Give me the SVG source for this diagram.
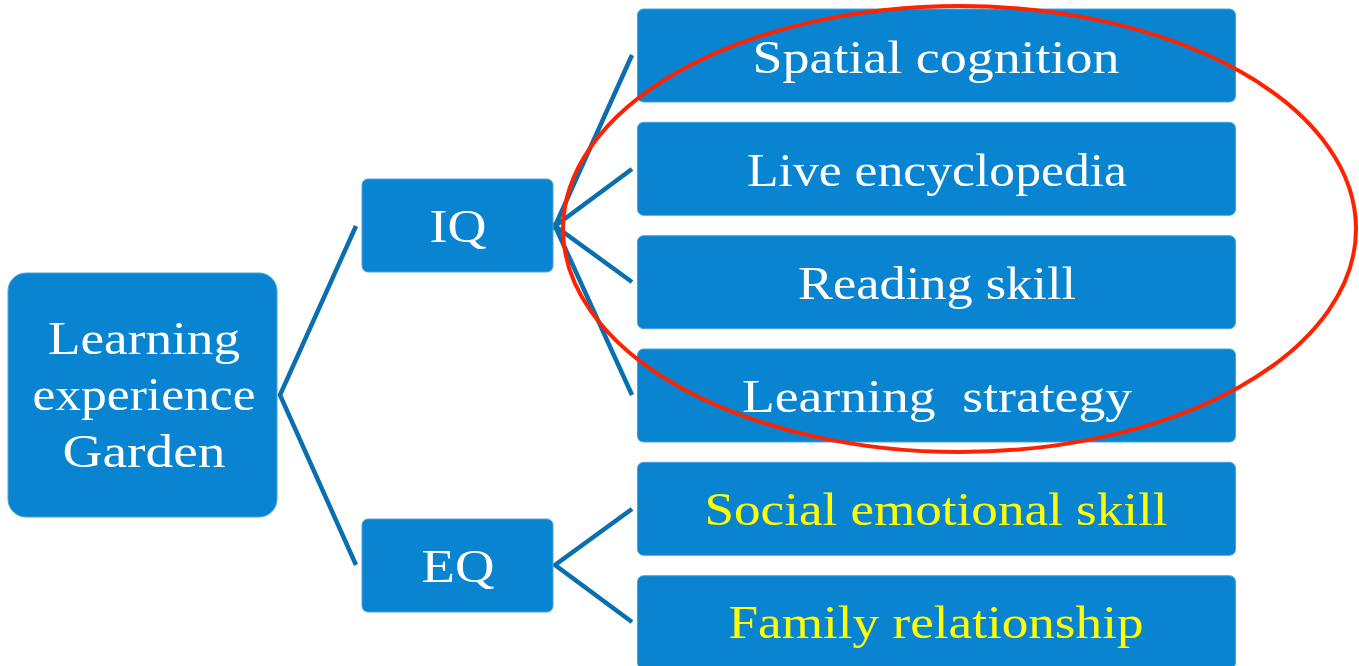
<svg xmlns="http://www.w3.org/2000/svg" width="1359" height="666" viewBox="0 0 1359 666">
<style>
.box{fill:#0884D0;stroke:#4BA3DC;stroke-width:1}
.t{font-family:"Liberation Serif","Times New Roman",serif;font-size:47px;text-anchor:middle;fill:#FFFFFF}
.y{fill:#FFFF00}
.c{stroke:#0A6FAF;stroke-width:4.5;fill:none;stroke-linejoin:miter}
</style>
<rect width="1359" height="666" fill="#FFFFFF"/>
<g id="connectors">
<polyline class="c" points="356,226 280,395 356,565"/>
<polyline class="c" points="632,55 555,226 632,169"/>
<polyline class="c" points="632,282 555,226 632,395"/>
<polyline class="c" points="632,509 555,565 632,622"/>
</g>
<g id="root">
<rect class="box" x="8" y="273" width="269" height="244" rx="18"/>
<text class="t"><tspan x="144" y="354" textLength="192" lengthAdjust="spacingAndGlyphs">Learning</tspan><tspan x="144" y="410" textLength="223" lengthAdjust="spacingAndGlyphs">experience</tspan><tspan x="144" y="467" textLength="163" lengthAdjust="spacingAndGlyphs">Garden</tspan></text>
</g>
<g id="iq">
<rect class="box" x="362" y="179" width="191" height="93" rx="6"/>
<text class="t" x="458" y="242" textLength="57" lengthAdjust="spacingAndGlyphs">IQ</text>
</g>
<g id="eq">
<rect class="box" x="362" y="519" width="191" height="93" rx="6"/>
<text class="t" x="458" y="582" textLength="73" lengthAdjust="spacingAndGlyphs">EQ</text>
</g>
<g id="spatial">
<rect class="box" x="637.5" y="9" width="598" height="93" rx="6"/>
<text class="t" x="936" y="73" textLength="367" lengthAdjust="spacingAndGlyphs">Spatial cognition</text>
</g>
<g id="live">
<rect class="box" x="637.5" y="122.3" width="598" height="93" rx="6"/>
<text class="t" x="937" y="186" textLength="380" lengthAdjust="spacingAndGlyphs">Live encyclopedia</text>
</g>
<g id="reading">
<rect class="box" x="637.5" y="235.7" width="598" height="93" rx="6"/>
<text class="t" x="937" y="299" textLength="278" lengthAdjust="spacingAndGlyphs">Reading skill</text>
</g>
<g id="strategy">
<rect class="box" x="637.5" y="349" width="598" height="93" rx="6"/>
<text class="t" x="937" y="412" textLength="390" lengthAdjust="spacingAndGlyphs" xml:space="preserve">Learning  strategy</text>
</g>
<g id="social">
<rect class="box" x="637.5" y="462.3" width="598" height="93" rx="6"/>
<text class="t y" x="936" y="525" textLength="463" lengthAdjust="spacingAndGlyphs">Social emotional skill</text>
</g>
<g id="family">
<rect class="box" x="637.5" y="575.7" width="598" height="93" rx="6"/>
<text class="t y" x="936" y="638" textLength="415" lengthAdjust="spacingAndGlyphs">Family relationship</text>
</g>
<g id="highlight">
<ellipse cx="959.5" cy="229" rx="396.5" ry="223" fill="none" stroke="#FF2200" stroke-width="4"/>
</g>
</svg>
